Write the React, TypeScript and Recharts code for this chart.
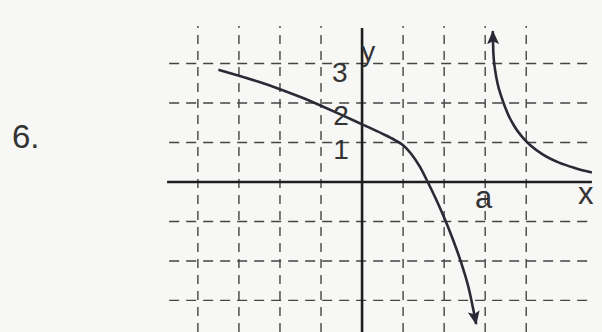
import { ComposedChart, Line, XAxis, YAxis, ReferenceLine, ReferenceDot } from "recharts";

// left branch (through the y-axis, falling to the right)
const leftX = [-3.5, -3, -2.5, -2, -1.5, -1, -0.5, 0, 0.5, 0.8, 1.0, 1.2, 1.4, 1.6, 1.8, 2.0, 2.2, 2.4, 2.6, 2.78];
const leftY = [2.84, 2.69, 2.53, 2.35, 2.15, 1.93, 1.7, 1.46, 1.22, 1.06, 0.93, 0.71, 0.4, 0.0, -0.43, -0.9, -1.42, -2.0, -2.7, -3.6];

// right branch (past the asymptote x = a)
const rightX = [3.185, 3.2, 3.24, 3.3, 3.4, 3.55, 3.7, 3.9, 4.1, 4.4, 4.8, 5.2, 5.6];
const rightY = [3.82, 3.25, 2.85, 2.5, 2.14, 1.73, 1.43, 1.14, 0.93, 0.7, 0.49, 0.35, 0.24];

const gridX = [-4, -3, -2, -1, 1, 2, 3, 4];
const gridY = [-3, -2, -1, 1, 2, 3];

const labelText = ["y", "3", "2", "1", "a", "x"];
const labelX = [0.15, -0.54, -0.51, -0.51, 2.96, 5.45];
const labelY = [3.32, 2.79, 1.7, 0.84, -0.39, -0.27];
const labelSize = [28, 28, 28, 28, 31, 31];

const leftData = leftX.map((x, i) => ({ x, y: leftY[i] }));
const rightData = rightX.map((x, i) => ({ x, y: rightY[i] }));

const ink = "#2a2a36";
const gridInk = "#444";
const font = "'Liberation Sans', Arial, sans-serif";

export default function App() {
  return (
    <div style={{ position: "absolute", left: 0, top: 0, width: 602, height: 332, background: "#f7f7f5", overflow: "hidden" }}>
      <svg width={0} height={0} style={{ position: "absolute" }}>
        <defs>
          <marker id="arrowEnd" viewBox="0 0 14 12" refX={13} refY={6} markerWidth={14} markerHeight={12} markerUnits="userSpaceOnUse" orient="auto">
            <path d="M0,0 L14,6 L0,12 L3,6 z" fill={ink} />
          </marker>
          <marker id="arrowStart" viewBox="0 0 14 12" refX={13} refY={6} markerWidth={14} markerHeight={12} markerUnits="userSpaceOnUse" orient="auto-start-reverse">
            <path d="M0,0 L14,6 L0,12 L3,6 z" fill={ink} />
          </marker>
        </defs>
      </svg>
      <div style={{ position: "absolute", left: 12, top: 118, fontFamily: font, fontSize: 33, color: "#333" }}>6.</div>
      <ComposedChart width={602} height={332} margin={{ top: 26, right: 6, bottom: 0, left: 163 }} style={{ position: "absolute", left: 0, top: 0 }}>
        <XAxis dataKey="x" type="number" domain={[-4.85, 5.7]} allowDataOverflow hide />
        <YAxis dataKey="y" type="number" domain={[-3.8, 3.95]} allowDataOverflow hide />

        {gridX.map((v) => (
          <ReferenceLine key={"gx" + v} x={v} stroke={gridInk} strokeWidth={1.4} strokeDasharray="9 7" />
        ))}
        {gridY.map((v) => (
          <ReferenceLine
            key={"gy" + v}
            segment={[{ x: -4.7, y: v }, { x: 5.5, y: v }]}
            stroke={gridInk}
            strokeWidth={1.4}
            strokeDasharray="10 7"
          />
        ))}

        {/* axes */}
        <ReferenceLine segment={[{ x: -4.75, y: 0 }, { x: 5.6, y: 0 }]} stroke="#1e1e1e" strokeWidth={2.6} />
        <ReferenceLine segment={[{ x: 0, y: -3.8 }, { x: 0, y: 3.9 }]} stroke="#1e1e1e" strokeWidth={2.6} />

        <Line
          data={leftData}
          dataKey="y"
          type="monotone"
          stroke={ink}
          strokeWidth={2.6}
          dot={false}
          activeDot={false}
          isAnimationActive={false}
          markerEnd="url(#arrowEnd)"
        />
        <Line
          data={rightData}
          dataKey="y"
          type="monotone"
          stroke={ink}
          strokeWidth={2.6}
          dot={false}
          activeDot={false}
          isAnimationActive={false}
          markerStart="url(#arrowStart)"
        />

        {labelText.map((t, i) => (
          <ReferenceDot
            key={"l" + i}
            x={labelX[i]}
            y={labelY[i]}
            r={1}
            fill="none"
            stroke="none"
            label={{ value: t, position: "center", fontSize: labelSize[i], fill: "#333", fontFamily: font }}
          />
        ))}
      </ComposedChart>
    </div>
  );
}
